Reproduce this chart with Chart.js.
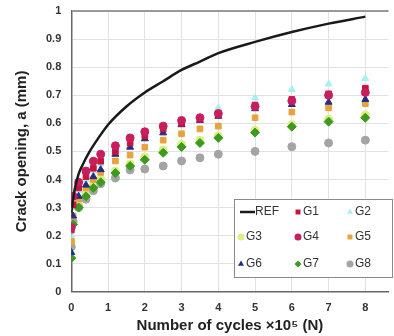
<!DOCTYPE html>
<html>
<head>
<meta charset="utf-8">
<script src="https://cdn.jsdelivr.net/npm/chart.js@4/dist/chart.umd.min.js"></script>
<style>
  html, body { margin: 0; padding: 0; background: #fff; overflow: hidden; }
  #wrap { width: 394px; height: 336px; position: relative; }
  #crack { display: block; }
</style>
</head>
<body>
<div id="wrap"><canvas id="crack"></canvas></div>
<script>
// cycles x10^5
var cycles = [0, 0.05, 0.2, 0.4, 0.6, 0.8, 1.2, 1.6, 2, 2.5, 3, 3.5, 4, 5, 6, 7, 8];
var refCycles = [0, 0.05, 0.1, 0.2, 0.3, 0.5, 0.75, 1, 1.5, 2, 2.5, 3, 3.5, 4, 5, 6, 7, 8];
var refOpening = [0.28, 0.33, 0.37, 0.42, 0.45, 0.50, 0.55, 0.595, 0.66, 0.71, 0.75, 0.79, 0.82, 0.85, 0.89, 0.925, 0.955, 0.98];
var xTicks = [0, 1, 2, 3, 4, 5, 6, 7, 8];

var g1 = [0.22, 0.31, 0.37, 0.41, 0.44, 0.465, 0.50, 0.53, 0.555, 0.58, 0.60, 0.615, 0.63, 0.665, 0.685, 0.705, 0.725];
var g2 = [0.20, 0.30, 0.36, 0.40, 0.43, 0.455, 0.49, 0.52, 0.545, 0.575, 0.60, 0.62, 0.655, 0.69, 0.72, 0.74, 0.76];
var g3 = [0.18, 0.25, 0.31, 0.35, 0.38, 0.40, 0.43, 0.455, 0.48, 0.505, 0.525, 0.54, 0.555, 0.575, 0.595, 0.615, 0.63];
var g4 = [0.23, 0.34, 0.39, 0.43, 0.465, 0.49, 0.52, 0.548, 0.57, 0.59, 0.61, 0.62, 0.635, 0.66, 0.68, 0.70, 0.71];
var g5 = [0.18, 0.27, 0.33, 0.37, 0.40, 0.425, 0.466, 0.487, 0.515, 0.54, 0.563, 0.58, 0.59, 0.62, 0.64, 0.655, 0.67];
var g6 = [0.14, 0.27, 0.34, 0.38, 0.41, 0.435, 0.49, 0.515, 0.545, 0.566, 0.595, 0.61, 0.625, 0.652, 0.667, 0.675, 0.685];
var g7 = [0.12, 0.24, 0.30, 0.34, 0.37, 0.39, 0.423, 0.448, 0.47, 0.495, 0.516, 0.53, 0.548, 0.567, 0.588, 0.606, 0.62];
var g8 = [0.16, 0.25, 0.30, 0.33, 0.36, 0.385, 0.405, 0.434, 0.437, 0.448, 0.466, 0.477, 0.49, 0.50, 0.517, 0.53, 0.54];

var groupNames = ['G1', 'G2', 'G3', 'G4', 'G5', 'G6', 'G7', 'G8'];
var groupValues = [g1, g2, g3, g4, g5, g6, g7, g8];
var groupColors = ['#c8143c', '#a8f0ee', '#dcf080', '#c81e5e', '#e8a23c', '#232c86', '#3c9a1e', '#a4a4a4'];
var groupShapes = ['rect', 'triangle', 'circle', 'circle', 'rect', 'triangle', 'rectRot', 'circle'];
var fontFam = '"Liberation Sans", Arial, sans-serif';

function pts(xs, ys) {
    var out = [];
    for (var i = 0; i < xs.length; i++) out.push({ x: xs[i], y: ys[i] });
    return out;
}

var datasets = [];
datasets.push({
    label: 'REF',
    data: pts(refCycles, refOpening),
    showLine: true,
    borderColor: '#1a1a1a',
    borderWidth: 2.5,
    pointRadius: 0,
    cubicInterpolationMode: 'monotone',
    order: 0
});
// first in list gets drawn at the bottom
var drawOrder = [2, 1, 7, 6, 4, 5, 0, 3];
drawOrder.forEach(function (k, n) {
    datasets.push({
        label: groupNames[k],
        data: pts(cycles, groupValues[k]),
        backgroundColor: groupColors[k],
        borderColor: groupColors[k],
        pointStyle: groupShapes[k],
        pointRadius: groupShapes[k] == 'rectRot' ? 4.5 : 4,
        showLine: false,
        order: 10 - n
    });
});

// legend box drawn inside the plot
var boxLegend = {
    id: 'boxLegend',
    afterDraw: function (chart) {
        var c = chart.ctx;
        var x0 = 234, y0 = 199, w = 158, h = 78;
        c.save();
        c.fillStyle = '#fff';
        c.fillRect(x0, y0, w, h);
        c.strokeStyle = '#8a8a8a';
        c.lineWidth = 1;
        c.strokeRect(x0 + 0.5, y0 + 0.5, w, h);
        c.font = '12px ' + fontFam;
        c.textBaseline = 'middle';
        var colX = [240, 297, 349];
        var rowY = [212, 237, 264];
        var items = ['REF'].concat(groupNames);
        items.forEach(function (name, i) {
            var cx = colX[i % 3], cy = rowY[Math.floor(i / 3)];
            if (name == 'REF') {
                c.strokeStyle = '#1a1a1a';
                c.lineWidth = 2.5;
                c.beginPath(); c.moveTo(cx, cy); c.lineTo(cx + 15, cy); c.stroke();
                c.fillStyle = '#333';
                c.fillText(name, cx + 15, cy);
            } else {
                var k = groupNames.indexOf(name);
                c.fillStyle = groupColors[k];
                Chart.helpers.drawPoint(c, { pointStyle: groupShapes[k], radius: 3.5, borderWidth: 0 }, cx + 1, cy);
                c.fillStyle = '#333';
                c.fillText(name, cx + 6, cy);
            }
        });
        c.restore();
    }
};

var ctx = document.getElementById('crack');
var chart = new Chart(ctx, {
    type: 'scatter',
    data: { datasets: datasets },
    options: {
        responsive: true,
        maintainAspectRatio: false,
        animation: false,
        layout: { padding: { top: 11, right: 0, left: 13, bottom: 0 } },
        plugins: { legend: { display: false }, tooltip: { enabled: false } },
        scales: {
            x: {
                type: 'linear', min: 0, max: 8.63,
                afterBuildTicks: function (axis) {
                    axis.ticks = xTicks.map(function (v) { return { value: v }; });
                },
                afterFit: function (axis) { axis.paddingRight = 0; axis.paddingLeft = 0; },
                grid: { color: '#e2e2e2', drawTicks: false },
                border: { color: '#666', width: 1.5 },
                ticks: {
                    padding: 10, color: '#333', autoSkip: false, maxRotation: 0,
                    font: { family: fontFam, size: 11, weight: 'bold' }
                },
                title: {
                    display: true, text: 'Number of cycles \u00d710\u2075 (N)', color: '#222',
                    font: { family: fontFam, size: 15, weight: 'bold', lineHeight: 1 },
                    padding: { top: -7, bottom: 3 }
                }
            },
            y: {
                min: 0, max: 1,
                afterFit: function (axis) { axis.paddingTop = 0; axis.paddingBottom = 0; },
                grid: {
                    color: function (c) { return c.tick.value == 1 ? '#999' : '#e2e2e2'; },
                    lineWidth: function (c) { return c.tick.value == 1 ? 2 : 1; },
                    drawTicks: false
                },
                border: { color: '#666', width: 1.5 },
                ticks: {
                    stepSize: 0.1, padding: 10, color: '#333',
                    font: { family: fontFam, size: 11, weight: 'bold' },
                    callback: function (v) { return Math.round(v * 10) / 10; }
                },
                title: {
                    display: true, text: 'Crack opening, a (mm)', color: '#222',
                    font: { family: fontFam, size: 15, weight: 'bold' },
                    padding: { top: 0, bottom: 5 }
                }
            }
        }
    },
    plugins: [boxLegend]
});
</script>
</body>
</html>
